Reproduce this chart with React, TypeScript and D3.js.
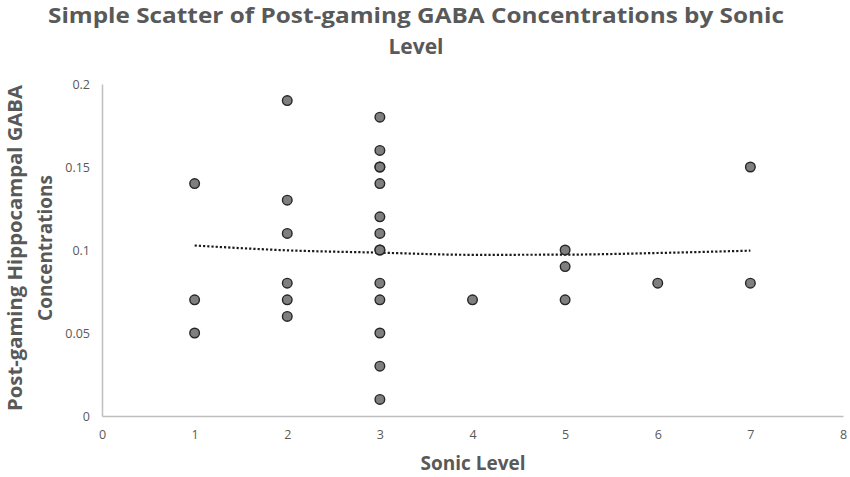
import React, { useEffect, useRef } from "react";
import * as d3 from "d3";

// Sonic level per subject and post-gaming GABA concentration
const sonicLevels = [
  1, 1, 1,
  2, 2, 2, 2, 2, 2,
  3, 3, 3, 3, 3, 3, 3, 3, 3, 3, 3, 3, 3, 3,
  4,
  5, 5, 5,
  6,
  7, 7,
];
const gabaValues = [
  0.14, 0.07, 0.05,
  0.19, 0.13, 0.11, 0.08, 0.07, 0.06,
  0.18, 0.16, 0.15, 0.15, 0.14, 0.12, 0.11, 0.1, 0.1, 0.08, 0.07, 0.05, 0.03, 0.01,
  0.07,
  0.1, 0.09, 0.07,
  0.08,
  0.15, 0.08,
];

// trendline
const trendLevels = [1, 2, 3, 4, 5, 6, 7];
const trendValues = [0.1027, 0.0998, 0.0984, 0.0971, 0.0972, 0.0982, 0.0996];

const xTicks = [0, 1, 2, 3, 4, 5, 6, 7, 8];
const yTicks = [0, 0.05, 0.1, 0.15, 0.2];

const title = ["Simple Scatter of Post-gaming  GABA Concentrations  by Sonic", "Level"];
const yTitle = ["Post-gaming Hippocampal GABA", "Concentrations"];
const xTitle = "Sonic Level";

const App: React.FC = () => {
  const svgRef = useRef<SVGSVGElement>(null);

  useEffect(() => {
    if (!svgRef.current) return;
    const svg = d3.select(svgRef.current);
    svg.selectAll("*").remove();

    const width = 850;
    const height = 477;
    const margin = { top: 84, right: 7, bottom: 61, left: 102 };
    const font = "'Open Sans', 'Liberation Sans', sans-serif";
    const textColor = "#595959";

    const x = d3.scaleLinear().domain([0, 8]).range([margin.left, width - margin.right]);
    const y = d3.scaleLinear().domain([0, 0.2]).range([height - margin.bottom, margin.top]);

    svg.append("rect").attr("width", width).attr("height", height).attr("fill", "#fff");

    // axes: plain gray lines, no tick marks
    const xAxis = svg
      .append("g")
      .attr("transform", `translate(0, ${y(0)})`)
      .call(d3.axisBottom(x).tickValues(xTicks).tickSize(0).tickPadding(14).tickFormat(d3.format("d")));
    xAxis.select(".domain").attr("stroke", "#bfbfbf").attr("stroke-width", 1.5);
    xAxis.selectAll("text").attr("fill", textColor).attr("font-size", 12.5).attr("font-family", font);

    const yAxis = svg
      .append("g")
      .attr("transform", `translate(${x(0)}, 0)`)
      .call(d3.axisLeft(y).tickValues(yTicks).tickSize(0).tickPadding(12).tickFormat((d) => `${d}`));
    yAxis.select(".domain").attr("stroke", "#bfbfbf").attr("stroke-width", 1.5);
    yAxis.selectAll("text").attr("fill", textColor).attr("font-size", 12.5).attr("font-family", font);

    // dotted trendline
    const line = d3
      .line<number>()
      .x((_, i) => x(trendLevels[i]))
      .y((d) => y(d))
      .curve(d3.curveMonotoneX);
    svg
      .append("path")
      .datum(trendValues)
      .attr("d", line)
      .attr("fill", "none")
      .attr("stroke", "#1a1a1a")
      .attr("stroke-width", 2.2)
      .attr("stroke-dasharray", "2.2,2");

    // points
    svg
      .selectAll(".dot")
      .data(gabaValues)
      .enter()
      .append("circle")
      .attr("class", "dot")
      .attr("cx", (_, i) => x(sonicLevels[i]))
      .attr("cy", (d) => y(d))
      .attr("r", 4.8)
      .attr("fill", "#7f7f7f")
      .attr("stroke", "#262626")
      .attr("stroke-width", 1.4);

    // chart title (two separate lines)
    const titleText = (txt: string, yPos: number, len?: number) => {
      const el = svg
        .append("text")
        .attr("x", 416)
        .attr("y", yPos)
        .attr("text-anchor", "middle")
        .attr("font-family", font)
        .attr("font-weight", "bold")
        .attr("font-size", 21)
        .attr("fill", textColor)
        .text(txt);
      if (len) el.attr("textLength", len).attr("lengthAdjust", "spacingAndGlyphs");
    };
    titleText(title[0], 23, 736);
    titleText(title[1], 54);

    // y axis title
    const yLine = (txt: string, xPos: number, len?: number) => {
      const el = svg
        .append("text")
        .attr("transform", `translate(${xPos}, 248) rotate(-90)`)
        .attr("text-anchor", "middle")
        .attr("font-family", font)
        .attr("font-weight", "bold")
        .attr("font-size", 19)
        .attr("fill", textColor)
        .text(txt);
      if (len) el.attr("textLength", len).attr("lengthAdjust", "spacingAndGlyphs");
    };
    yLine(yTitle[0], 22, 326);
    yLine(yTitle[1], 52);

    // x axis title
    svg
      .append("text")
      .attr("x", 473)
      .attr("y", 470)
      .attr("text-anchor", "middle")
      .attr("font-family", font)
      .attr("font-weight", "bold")
      .attr("font-size", 19)
      .attr("fill", textColor)
      .text(xTitle);
  }, []);

  return (
    <svg
      ref={svgRef}
      width={850}
      height={477}
      style={{ position: "absolute", left: 0, top: 0 }}
    ></svg>
  );
};

export default App;
